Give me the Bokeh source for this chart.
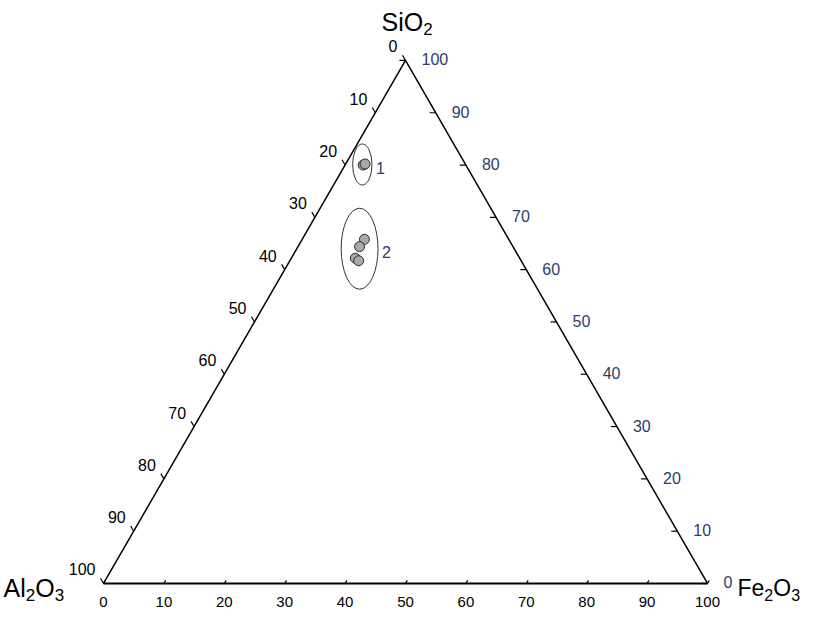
import math
from bokeh.plotting import figure
from bokeh.core.properties import value
from bokeh.embed import file_html
from bokeh.resources import INLINE

# ---------------- data (wt %) ----------------
sio2 = [80.0, 80.2, 65.8, 64.4, 62.2, 61.7]
al2o3 = [17.0, 16.6, 23.9, 25.4, 27.2, 26.9]
fe2o3 = [3.0, 3.2, 10.3, 10.2, 10.6, 11.4]
group = [1, 1, 2, 2, 2, 2]

# group ellipses (centre composition, size in ternary units)
group_ids = ["1", "2"]
ellipse_sio2 = [80.1, 64.0]
ellipse_fe2o3 = [2.8, 10.4]
ellipse_w = [3.2, 6.1]
ellipse_h = [6.8, 13.4]

tick_values = [0, 10, 20, 30, 40, 50, 60, 70, 80, 90, 100]
tick_labels = [str(v) for v in tick_values]

H = math.sqrt(3) / 2.0


def tern(a, f, s):
    t = a + f + s
    return 100.0 * (f + s / 2.0) / t, 100.0 * s * H / t


FONT = value("Liberation Sans")
BLUE = "#2a3d6c"

p = figure(width=801, height=611, output_backend="svg", toolbar_location=None,
           x_range=(-17.053, 115.563), y_range=(-4.636, 96.523),
           min_border=0)
p.axis.visible = False
p.grid.visible = False
p.outline_line_color = None
p.background_fill_color = "white"

# triangle
A = tern(100, 0, 0)
F = tern(0, 100, 0)
S = tern(0, 0, 100)
p.line([A[0], F[0]], [A[1], F[1]], line_color="black", line_width=2)
p.line([F[0], S[0], A[0]], [F[1], S[1], A[1]], line_color="black", line_width=1.5)

# ---- ticks ----
L = 1.0
lx0, ly0, lx1, ly1 = [], [], [], []   # left axis (Al2O3)
rx0, ry0, rx1, ry1 = [], [], [], []   # right axis (SiO2)
bx0, by0, bx1, by1 = [], [], [], []   # bottom axis (Fe2O3)
for v in tick_values:
    x, y = tern(v, 0, 100 - v)
    lx0.append(x); ly0.append(y); lx1.append(x - 0.5 * L); ly1.append(y + H * L)
    x, y = tern(0, 100 - v, v)
    rx0.append(x); ry0.append(y); rx1.append(x - L); ry1.append(y)
    x, y = tern(100 - v, v, 0)
    bx0.append(x); by0.append(y); bx1.append(x + 0.5 * 0.6); by1.append(y + H * 0.6)
for xs0, ys0, xs1, ys1 in [(lx0, ly0, lx1, ly1), (rx0, ry0, rx1, ry1), (bx0, by0, bx1, by1)]:
    p.segment(xs0, ys0, xs1, ys1, line_color="black", line_width=1.2)

# ---- tick labels ----
p.text(lx0, ly0, text=tick_labels, text_align="right", text_baseline="middle",
       x_offset=-8, y_offset=-14, text_font=FONT, text_font_size="16px", text_color="black")
p.text(rx0, ry0, text=tick_labels, text_align="left", text_baseline="middle",
       x_offset=16, y_offset=-1, text_font=FONT, text_font_size="16px", text_color=BLUE)
p.text(bx0, by0, text=tick_labels, text_align="center", text_baseline="middle",
       x_offset=0, y_offset=19, text_font=FONT, text_font_size="15px", text_color="black")

# ---- vertex labels with subscripts ----
WID = {"S": 0.667, "i": 0.222, "O": 0.778, "A": 0.667, "l": 0.222,
       "F": 0.611, "e": 0.556}


def chem(vx, vy, parts, x0, base_dy, big, small):
    x = x0
    for txt, sub in parts:
        size = small if sub else big
        dy = base_dy + (7 if sub else 0)
        p.text([vx], [vy], text=[txt], text_align="left", text_baseline="alphabetic",
               x_offset=x, y_offset=dy, text_font=FONT, text_font_size=f"{size}px",
               text_color="black")
        x += sum(WID.get(c, 0.556) for c in txt) * size


chem(S[0], S[1], [("SiO", False), ("2", True)], -24, -38, 25, 17)
chem(A[0], A[1], [("Al", False), ("2", True), ("O", False), ("3", True)], -100, 5, 25, 17)
chem(F[0], F[1], [("Fe", False), ("2", True), ("O", False), ("3", True)], 30, 5, 23, 16)

# ---- group ellipses ----
ex, ey = [], []
for s_, f_ in zip(ellipse_sio2, ellipse_fe2o3):
    x, y = tern(100 - s_ - f_, f_, s_)
    ex.append(x); ey.append(y)
p.ellipse(ex, ey, width=ellipse_w, height=ellipse_h, fill_color=None,
          line_color="#333333", line_width=1)
p.text([x + w / 2 for x, w in zip(ex, ellipse_w)], ey, text=group_ids,
       text_align="left", text_baseline="middle", x_offset=4, y_offset=3,
       text_font=FONT, text_font_size="16px", text_color=BLUE)

# ---- sample points ----
px, py = [], []
for a_, f_, s_ in zip(al2o3, fe2o3, sio2):
    x, y = tern(a_, f_, s_)
    px.append(x); py.append(y)
p.scatter(px, py, size=10, fill_color="#a9a9a9", line_color="#2a2a2a", line_width=1)

open("out.html", "w").write(file_html(p, INLINE))
